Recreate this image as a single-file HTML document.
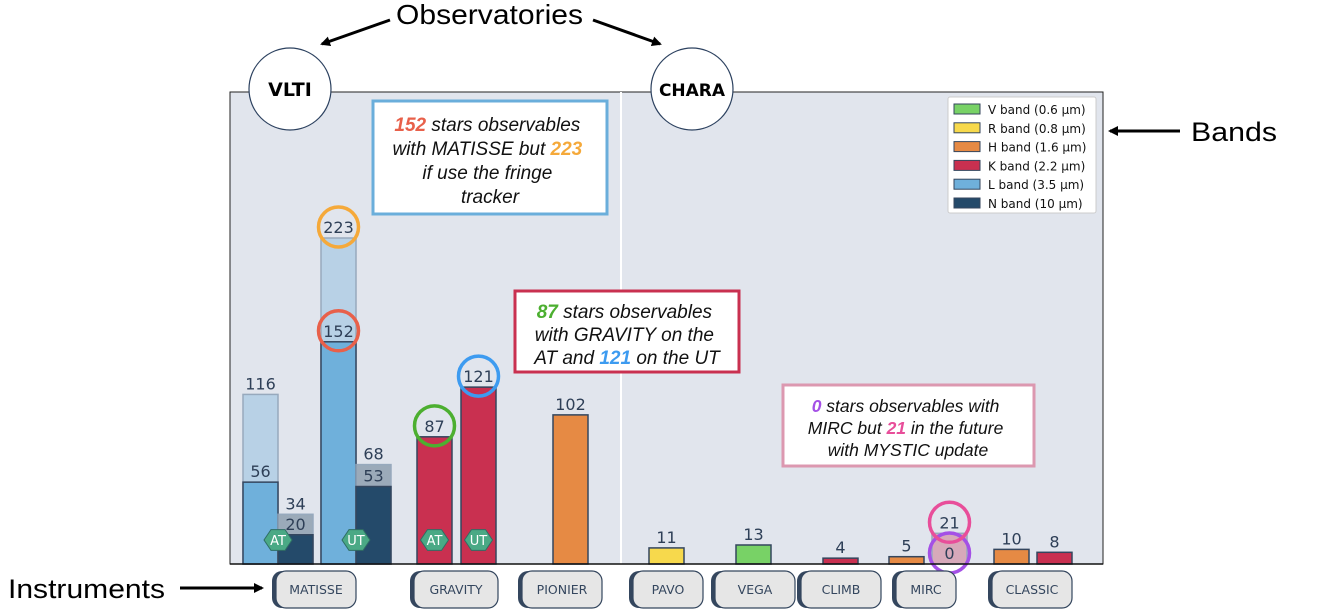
<!DOCTYPE html>
<html><head><meta charset="utf-8">
<style>
body{margin:0;background:#fff;font-family:"Liberation Sans","DejaVu Sans",sans-serif;}
svg{display:block}
</style></head>
<body>
<svg id="c" width="1343" height="614" xmlns="http://www.w3.org/2000/svg">
<defs>
<marker id="ah" markerWidth="10" markerHeight="10" refX="8" refY="5" orient="auto" markerUnits="userSpaceOnUse"><path d="M0,0 L10,5 L0,10 z" fill="#000"/></marker>
</defs>
<rect x="230" y="92" width="873" height="472" fill="#e1e5ed" stroke="#222" stroke-width="1"/>
<line x1="621" y1="92" x2="621" y2="564" stroke="#fff" stroke-width="2"/>
<g id="bars"></g>
<line x1="230" y1="564" x2="1103" y2="564" stroke="#111" stroke-width="1.5"/>
<g id="labels"></g>
<text x="396" y="24" font-size="28" textLength="187" lengthAdjust="spacingAndGlyphs">Observatories</text>
<line x1="390" y1="20" x2="322" y2="44" stroke="#000" stroke-width="3" marker-end="url(#ah)"/>
<line x1="593" y1="20" x2="660" y2="44" stroke="#000" stroke-width="3" marker-end="url(#ah)"/>
<circle cx="290" cy="89" r="41" fill="#fff" stroke="#2d4260" stroke-width="1.2"/>
<text x="290" y="96" font-size="19" font-weight="bold" text-anchor="middle" font-family="DejaVu Sans, sans-serif">VLTI</text>
<circle cx="692" cy="89" r="41" fill="#fff" stroke="#2d4260" stroke-width="1.2"/>
<text x="692" y="96" font-size="17" font-weight="bold" text-anchor="middle" font-family="DejaVu Sans, sans-serif">CHARA</text>
<text x="1191" y="141" font-size="27" textLength="86" lengthAdjust="spacingAndGlyphs">Bands</text>
<line x1="1180" y1="131" x2="1110" y2="131" stroke="#000" stroke-width="3" marker-end="url(#ah)"/>
<text x="8" y="598" font-size="27" textLength="157" lengthAdjust="spacingAndGlyphs">Instruments</text>
<line x1="180" y1="588" x2="262" y2="588" stroke="#000" stroke-width="3" marker-end="url(#ah)"/>
<g>
<rect x="948" y="97" width="148" height="116" fill="#fff" stroke="#ccc" rx="2"/>
<g id="legend"></g>
</g>
<g>
<rect x="373" y="101" width="234" height="113" fill="#fff" stroke="#6aaedb" stroke-width="3"/>
<text font-size="19" font-style="italic" text-anchor="middle" fill="#111">
<tspan x="490" y="131"><tspan fill="#e8604a" font-weight="bold">152</tspan> stars observables</tspan>
<tspan x="490" y="155">with MATISSE but <tspan fill="#f5a93a" font-weight="bold">223</tspan></tspan>
<tspan x="490" y="179">if use the fringe</tspan>
<tspan x="490" y="203">tracker</tspan></text>
</g>
<g>
<rect x="515" y="291" width="224" height="81" fill="#fff" stroke="#c93050" stroke-width="3"/>
<text font-size="19" font-style="italic" text-anchor="middle" fill="#111">
<tspan x="627" y="318"><tspan fill="#4caf30" font-weight="bold">87</tspan> stars observables</tspan>
<tspan x="627" y="341">with GRAVITY on the</tspan>
<tspan x="627" y="364">AT and <tspan fill="#3d9bf0" font-weight="bold">121</tspan> on the UT</tspan></text>
</g>
<g>
<rect x="783" y="385" width="251" height="81" fill="#fff" stroke="#dc98b0" stroke-width="3"/>
<text font-size="17.5" font-style="italic" text-anchor="middle" fill="#111">
<tspan x="908" y="412"><tspan fill="#a450e6" font-weight="bold">0</tspan> stars observables with</tspan>
<tspan x="908" y="434">MIRC but <tspan fill="#e84e9a" font-weight="bold">21</tspan> in the future</tspan>
<tspan x="908" y="456">with MYSTIC update</tspan></text>
</g>
</svg>
<script>
// data
const barInstruments = ["MATISSE","MATISSE","MATISSE","MATISSE","GRAVITY","GRAVITY","PIONIER","PAVO","VEGA","CLIMB","MIRC","MIRC","CLASSIC","CLASSIC"];
const barBands = ["L","N","L","N","K","K","H","R","V","K","H","H","H","K"];
const barValues = [56,20,152,53,87,121,102,11,13,4,5,0,10,8];
const ghostValues = [116,34,223,68,null,null,null,null,null,null,null,21,null,null];
const telescopes = ["AT",null,"UT",null,"AT","UT",null,null,null,null,null,null,null,null];
const instruments = ["MATISSE","GRAVITY","PIONIER","PAVO","VEGA","CLIMB","MIRC","CLASSIC"];
const bandNames = ["V band (0.6 µm)","R band (0.8 µm)","H band (1.6 µm)","K band (2.2 µm)","L band (3.5 µm)","N band (10 µm)"];
const bandKeys = ["V","R","H","K","L","N"];
// layout
const FONT = "DejaVu Sans, sans-serif";
const bandColor = {V:"#78d266",R:"#f7d94c",H:"#e68a44",K:"#c93050",L:"#6fb0db",N:"#244a6a"};
const ghostColor = {L:"#b4cfe6",N:"#94a4b4",H:"#d7a3b5"};
const barCenters = [260.5,295.5,338.5,373.5,434.5,478.5,570.5,666.5,753.5,840.5,906.5,949.5,1011.5,1054.5];
const labelCenters = [316,456,562,668,755,841,926,1032];
const labelWidths = [80,84,80,70,80,80,60,80];
const base = 564, k = (564-238)/223, bw = 35;
const y = v => base - v*k;
const NS = "http://www.w3.org/2000/svg";
function mk(tag, at, parent){const e=document.createElementNS(NS,tag);for(const a in at)e.setAttribute(a,at[a]);parent.appendChild(e);return e;}
const gB = document.getElementById("bars");
const gTop = document.createElementNS(NS,"g");
const circles = {2:["#e8604a","#f5a93a"],4:[null,"#4caf30"],5:[null,"#3d9bf0"],11:["#a450e6","#e84e9a"]};
barValues.forEach((v,i)=>{
  const cx = barCenters[i], x0 = cx-bw/2;
  const g = ghostValues[i];
  if(g!==null){
    const gc = ghostColor[barBands[i]] || "#b4cfe6";
    const r = mk("rect",{x:x0,y:y(g),width:bw,height:base-y(g),fill:gc,stroke:"#8fa3b8","stroke-width":1.5,opacity:0.9},gB);
    
    
    const t = mk("text",{x:cx,y:y(g)-5,"font-size":16,"text-anchor":"middle",fill:"#2e3f57","font-family":FONT},gB);
    t.textContent = g;
    
    
  }
  const r = mk("rect",{x:x0,y:y(v),width:bw,height:base-y(v),fill:bandColor[barBands[i]],stroke:"#34465e","stroke-width":1.5},gB);
  
  
  const lab = mk("text",{x:cx,y:y(v)-5,"font-size":16,"text-anchor":"middle",fill:"#2e3f57","font-family":FONT},gB);
  lab.textContent = v;
  
  
  if(circles[i]){
    const [c1,c2]=circles[i];
    if(c1){const c=mk("circle",{cx:cx,cy:y(v)-11,r:20,fill:"none",stroke:c1,"stroke-width":3.5},gB);
      }
    if(c2){const gv = g!==null?g:v;const c=mk("circle",{cx:cx,cy:y(gv)-11,r:20,fill:"none",stroke:c2,"stroke-width":3.5},gB);
      }
  }
  if(telescopes[i]){
    const hcx = (i<4) ? x0+bw : cx;
    const pts=[]; for(let a=0;a<6;a++){const an=Math.PI/3*a;pts.push((hcx+14*Math.cos(an)).toFixed(1)+","+(540+12*Math.sin(an)).toFixed(1));}
    const h=mk("polygon",{points:pts.join(" "),fill:"#4aa985",stroke:"#2f6e64","stroke-width":1},gTop);
    
    const t=mk("text",{x:hcx,y:545,"font-size":13,"text-anchor":"middle",fill:"#fff","font-family":FONT},gTop);
    t.textContent=telescopes[i];
    
  }
});
gB.appendChild(gTop);
const gL = document.getElementById("labels");
instruments.forEach((n,i)=>{
  const cx=labelCenters[i], w=labelWidths[i];
  const s=mk("rect",{x:cx-w/2-4,y:571,width:w,height:37,rx:10,fill:"#34465e"},gL);
  
  const r=mk("rect",{x:cx-w/2,y:571,width:w,height:37,rx:10,fill:"#e6e6e6",stroke:"#34465e","stroke-width":1.2},gL);
  
  const t=mk("text",{x:cx,y:594,"font-size":12.5,"text-anchor":"middle",fill:"#34465e","font-family":FONT},gL);
  t.textContent=n;
  
});
const gLe = document.getElementById("legend");
bandNames.forEach((n,i)=>{
  const yy=104+i*18.8;
  const r=mk("rect",{x:954,y:yy,width:26,height:10,fill:bandColor[bandKeys[i]],stroke:"#34465e","stroke-width":1},gLe);
  
  const t=mk("text",{x:988,y:yy+10,"font-size":12,fill:"#111","font-family":FONT},gLe);
  t.textContent=n;
  
});
</script>
</body></html>
